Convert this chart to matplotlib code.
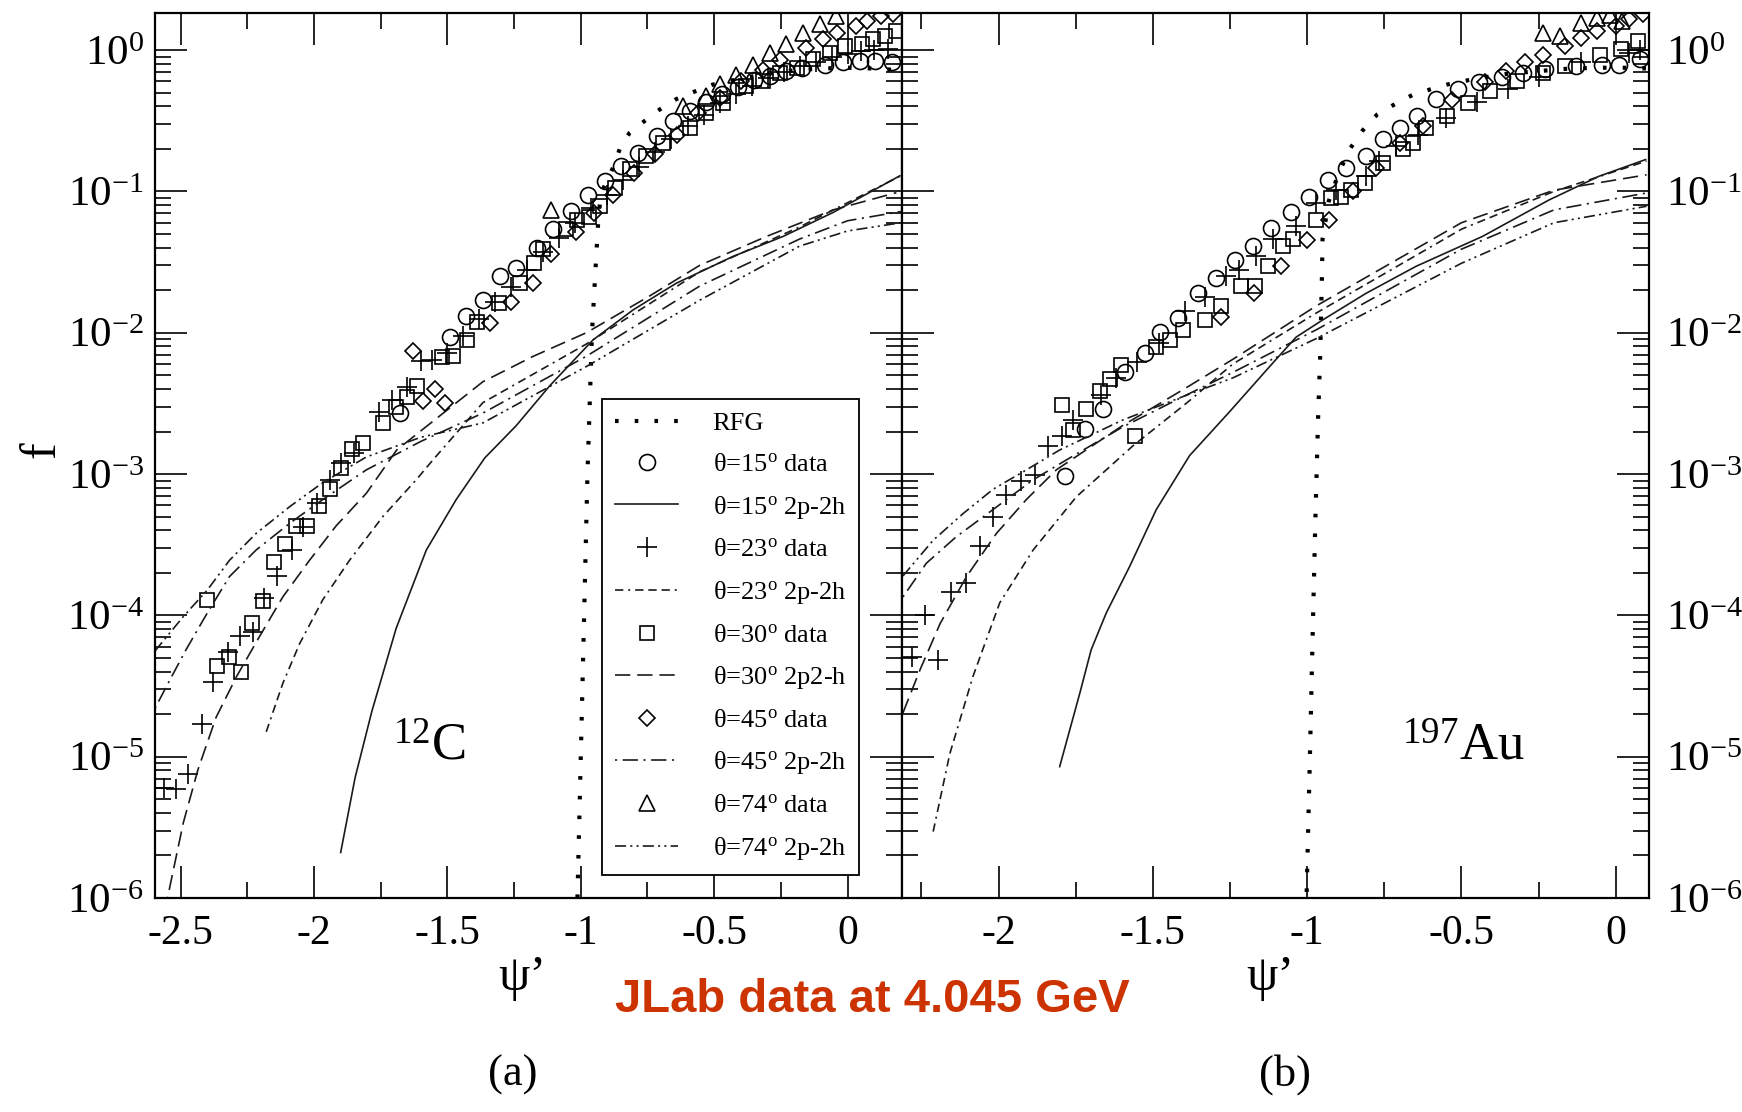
import numpy as np
import matplotlib
matplotlib.use("Agg")
import matplotlib.pyplot as plt
from matplotlib.ticker import FixedLocator, LogLocator, FuncFormatter, NullFormatter, FixedFormatter

plt.rcParams['font.family'] = ['Liberation Serif', 'DejaVu Serif']
plt.rcParams['mathtext.fontset'] = 'custom'
plt.rcParams['mathtext.rm'] = 'Liberation Serif'
plt.rcParams['mathtext.it'] = 'Liberation Serif:italic'
plt.rcParams['mathtext.bf'] = 'Liberation Serif:bold'
plt.rcParams['lines.scale_dashes'] = False

# ---------------- 12C (panel a) ----------------
c_rfg_psi = [-1.0125, -1.0, -0.9875, -0.975, -0.958, -0.942, -0.935, -0.925, -0.873, -0.854, -0.817, -0.76,
             -0.704, -0.642, -0.572, -0.505, -0.4, -0.3, -0.2, -0.1, 0.0, 0.1, 0.2]
c_rfg_f = [1e-6, 1e-5, 1e-4, 1e-3, 1e-2, 0.035, 0.06, 0.096, 0.156, 0.20, 0.26, 0.316,
           0.38, 0.45, 0.51, 0.57, 0.63, 0.68, 0.72, 0.74, 0.75, 0.74, 0.72]

c_d15_psi = [-1.679, -1.492, -1.429, -1.367, -1.304, -1.242, -1.166, -1.104, -1.035, -0.973, -0.91, -0.848,
             -0.785, -0.716, -0.654, -0.59, -0.53, -0.47, -0.41, -0.35, -0.29, -0.23, -0.17, -0.085,
             -0.016, 0.046, 0.1025, 0.165]
c_d15_f = [0.0027, 0.0093, 0.0131, 0.0171, 0.025, 0.0287, 0.040, 0.054, 0.073, 0.095, 0.119, 0.151,
           0.188, 0.247, 0.315, 0.37, 0.43, 0.49, 0.55, 0.61, 0.66, 0.71, 0.75, 0.79,
           0.82, 0.84, 0.84, 0.82]

c_d23_psi = [-2.5625, -2.517, -2.471, -2.421, -2.379, -2.321, -2.279, -2.229, -2.1875, -2.1375, -2.083, -2.042,
             -1.9875, -1.94, -1.90, -1.85, -1.758, -1.708, -1.65, -1.60, -1.558, -1.5, -1.44, -1.38,
             -1.32, -1.26, -1.2, -1.14, -1.08, -1.02, -0.96, -0.9, -0.84, -0.78, -0.72, -0.66,
             -0.6, -0.54, -0.48, -0.42, -0.36, -0.3, -0.24, -0.18, -0.12, -0.06, 0.0, 0.05, 0.1, 0.15]
c_d23_f = [6.0e-6, 5.9e-6, 7.6e-6, 1.7e-5, 3.4e-5, 5.5e-5, 7.1e-5, 7.6e-5, 1.33e-4, 1.9e-4, 2.9e-4, 4.2e-4,
           6.2e-4, 9.1e-4, 1.2e-3, 1.4e-3, 2.75e-3, 3.35e-3, 4.1e-3, 6.3e-3, 6.4e-3, 7.2e-3, 9.5e-3, 0.0125,
           0.0165, 0.021, 0.028, 0.037, 0.047, 0.060, 0.076, 0.095, 0.12, 0.15, 0.19, 0.235,
           0.29, 0.35, 0.42, 0.49, 0.56, 0.63, 0.70, 0.77, 0.83, 0.89, 0.94, 0.98, 1.0, 1.01]

c_d30_psi = [-2.40, -2.3625, -2.317, -2.275, -2.233, -2.19, -2.15, -2.108, -2.067, -2.025, -1.983, -1.94,
             -1.90, -1.858, -1.817, -1.74, -1.694, -1.651, -1.615, -1.52, -1.479, -1.427, -1.39, -1.308,
             -1.227, -1.177, -1.142, -1.056, -1.0125, -0.97, -0.929, -0.87, -0.817, -0.754, -0.692, -0.592,
             -0.529, -0.467, -0.379, -0.317, -0.254, -0.19, -0.129, -0.067, -0.01, 0.0525, 0.096, 0.14, 0.183]
c_d30_f = [1.29e-4, 4.4e-5, 5.1e-5, 4.0e-5, 8.8e-5, 1.26e-4, 2.4e-4, 3.2e-4, 4.3e-4, 4.3e-4, 5.9e-4, 7.9e-4,
           1.1e-3, 1.5e-3, 1.65e-3, 2.3e-3, 3.0e-3, 3.5e-3, 4.2e-3, 6.7e-3, 6.8e-3, 8.9e-3, 0.012, 0.0162,
           0.0225, 0.031, 0.039, 0.054, 0.063, 0.066, 0.079, 0.105, 0.143, 0.178, 0.221, 0.283,
           0.361, 0.425, 0.56, 0.605, 0.69, 0.75, 0.86, 0.96, 1.07, 1.10, 1.19, 1.26, 1.37]

c_d45_psi = [-1.629, -1.59, -1.548, -1.51, -1.34, -1.2625, -1.18, -1.11, -1.017, -0.95, -0.88, -0.8,
             -0.72, -0.64, -0.56, -0.48, -0.40, -0.317, -0.254, -0.154, -0.092, -0.04, 0.033, 0.071, 0.125, 0.17]
c_d45_f = [7.4e-3, 3.3e-3, 4.0e-3, 3.2e-3, 0.0117, 0.0166, 0.0225, 0.036, 0.052, 0.07, 0.095, 0.135,
           0.185, 0.25, 0.36, 0.46, 0.60, 0.72, 0.85, 1.04, 1.19, 1.33, 1.48, 1.61, 1.75, 1.80]

c_d74_psi = [-1.11, -0.617, -0.529, -0.479, -0.417, -0.354, -0.29, -0.229, -0.167, -0.104, -0.042]
c_d74_f = [0.074, 0.40, 0.474, 0.573, 0.67, 0.79, 0.96, 1.10, 1.33, 1.52, 1.74]

c_t15_psi = [-1.90, -1.846, -1.783, -1.692, -1.579, -1.467, -1.36, -1.242, -1.117, -0.954, -0.804, -0.642,
             -0.429, -0.242, -0.054, 0.196]
c_t15_f = [2.1e-6, 7.1e-6, 2.1e-5, 8.1e-5, 2.9e-4, 6.6e-4, 1.3e-3, 2.2e-3, 4.2e-3, 8.9e-3, 1.45e-2, 2.24e-2,
           3.47e-2, 4.8e-2, 7.1e-2, 0.129]

c_t23_psi = [-2.179, -2.117, -2.054, -1.967, -1.867, -1.742, -1.617, -1.554, -1.367, -0.98, -0.554, -0.18, 0.196]
c_t23_f = [1.5e-5, 3.3e-5, 6.3e-5, 1.29e-4, 2.45e-4, 5.0e-4, 9.1e-4, 1.26e-3, 3.2e-3, 8.3e-3, 2.7e-2, 5.6e-2, 0.128]

c_t30_psi = [-2.56, -2.49, -2.435, -2.367, -2.29, -2.204, -2.117, -2.017, -1.917, -1.804, -1.69, -1.367,
             -1.179, -0.979, -0.742, -0.554, -0.304, -0.054, 0.183]
c_t30_f = [8e-7, 3.4e-6, 8.1e-6, 1.9e-5, 3.7e-5, 7.1e-5, 1.35e-4, 2.45e-4, 4.3e-4, 7.3e-4, 1.48e-3, 4.5e-3,
           6.8e-3, 1.0e-2, 1.82e-2, 3.0e-2, 4.8e-2, 7.4e-2, 9.8e-2]

c_t45_psi = [-2.596, -2.54, -2.48, -2.40, -2.317, -2.217, -2.09, -1.967, -1.804, -1.6, -1.367, -0.98,
             -0.554, -0.18, 0.0, 0.2]
c_t45_f = [2.2e-5, 3.5e-5, 5.7e-5, 1.04e-4, 1.88e-4, 2.9e-4, 4.5e-4, 6.6e-4, 1.07e-3, 1.7e-3, 2.7e-3, 6.8e-3,
           2.14e-2, 4.6e-2, 6.2e-2, 7.2e-2]

c_t74_psi = [-2.596, -2.49, -2.40, -2.317, -2.217, -2.09, -1.967, -1.804, -1.6, -1.367, -0.98, -0.554,
             -0.18, 0.0, 0.2]
c_t74_f = [5.6e-5, 9.8e-5, 1.51e-4, 2.45e-4, 3.8e-4, 5.9e-4, 8.7e-4, 1.32e-3, 1.82e-3, 2.3e-3, 5.75e-3, 1.7e-2,
           4.1e-2, 5.25e-2, 6.0e-2]

# ---------------- 197Au (panel b) ----------------
a_rfg_psi = [-1.003, -0.991, -0.982, -0.973, -0.964, -0.958, -0.955, -0.952, -0.95, -0.93, -0.90, -0.865,
             -0.82, -0.773, -0.703, -0.651, -0.547, -0.45, -0.35, -0.25, -0.15, -0.05, 0.05, 0.1]
a_rfg_f = [8e-7, 1e-5, 7.4e-5, 5e-4, 2.7e-3, 6.5e-3, 0.0126, 0.025, 0.046, 0.085, 0.13, 0.195,
           0.27, 0.35, 0.43, 0.49, 0.57, 0.63, 0.68, 0.71, 0.74, 0.75, 0.75, 0.74]

a_d15_psi = [-1.786, -1.72, -1.662, -1.591, -1.527, -1.478, -1.419, -1.354, -1.295, -1.235, -1.176, -1.117,
             -1.052, -0.995, -0.933, -0.874, -0.809, -0.755, -0.70, -0.644, -0.581, -0.512, -0.442, -0.37,
             -0.30, -0.23, -0.13, -0.043, 0.01, 0.079]
a_d15_f = [9.7e-4, 2.1e-3, 2.9e-3, 5.3e-3, 7.2e-3, 0.0102, 0.0127, 0.019, 0.0245, 0.0329, 0.0408, 0.055,
           0.072, 0.092, 0.121, 0.147, 0.177, 0.233, 0.28, 0.34, 0.45, 0.53, 0.59, 0.64,
           0.69, 0.73, 0.77, 0.79, 0.79, 0.86]

a_d23_psi = [-2.28, -2.239, -2.196, -2.153, -2.104, -2.06, -2.018, -1.975, -1.926, -1.883, -1.84, -1.796,
             -1.759, -1.667, -1.619, -1.55, -1.48, -1.397, -1.33, -1.263, -1.22, -1.165, -1.111, -1.036,
             -0.971, -0.906, -0.809, -0.766, -0.712, -0.64, -0.55, -0.45, -0.35, -0.25, -0.112, 0.044, 0.08]
a_d23_f = [5.1e-5, 1.0e-4, 4.8e-5, 1.47e-4, 1.7e-4, 3.1e-4, 5.0e-4, 7.1e-4, 8.9e-4, 9.9e-4, 1.57e-3, 1.85e-3,
           2.4e-3, 3.6e-3, 4.8e-3, 6.2e-3, 8.5e-3, 0.0142, 0.018, 0.025, 0.028, 0.035, 0.046, 0.057,
           0.083, 0.103, 0.128, 0.163, 0.209, 0.25, 0.33, 0.43, 0.53, 0.64, 0.83, 0.955, 1.0]

a_d30_psi = [-1.796, -1.759, -1.718, -1.672, -1.64, -1.602, -1.559, -1.489, -1.446, -1.403, -1.332, -1.279,
             -1.214, -1.17, -1.127, -1.079, -1.047, -0.971, -0.922, -0.89, -0.8575, -0.814, -0.755, -0.69,
             -0.658, -0.615, -0.547, -0.478, -0.406, -0.32, -0.234, -0.164, -0.05, 0.018, 0.072]
a_d30_f = [3.1e-3, 2.05e-3, 2.9e-3, 3.85e-3, 4.7e-3, 5.9e-3, 1.85e-3, 7.9e-3, 8.9e-3, 0.0105, 0.0123, 0.0154,
           0.0213, 0.0213, 0.0295, 0.041, 0.046, 0.063, 0.090, 0.092, 0.103, 0.115, 0.16, 0.198,
           0.22, 0.28, 0.34, 0.42, 0.51, 0.60, 0.69, 0.77, 0.93, 1.01, 1.16]

a_d45_psi = [-1.279, -1.172, -1.086, -1.0, -0.929, -0.85, -0.777, -0.70, -0.626, -0.53, -0.424, -0.356,
             -0.295, -0.234, -0.164, -0.112, -0.061, 0.0, 0.043, 0.088]
a_d45_f = [0.013, 0.019, 0.0295, 0.045, 0.063, 0.10, 0.147, 0.22, 0.29, 0.44, 0.59, 0.71,
           0.83, 0.93, 1.07, 1.22, 1.36, 1.48, 1.65, 1.79]

a_d74_psi = [-0.234, -0.181, -0.112, -0.059, -0.02, 0.02]
a_d74_f = [1.32, 1.25, 1.55, 1.70, 1.78, 1.60]

a_t15_psi = [-1.802, -1.737, -1.70, -1.651, -1.576, -1.489, -1.381, -1.252, -1.133, -1.036, -0.95, -0.809,
             -0.647, -0.432, -0.216, -0.054, 0.097]
a_t15_f = [8.5e-6, 2.8e-5, 5.7e-5, 1.04e-4, 2.2e-4, 5.6e-4, 1.35e-3, 2.75e-3, 5.4e-3, 9.3e-3, 1.23e-2, 1.9e-2,
           2.95e-2, 4.8e-2, 8.7e-2, 0.128, 0.168]

a_t23_psi = [-2.212, -2.158, -2.083, -1.996, -1.888, -1.748, -1.565, -1.392, -1.241, -0.97, -0.5, -0.2, 0.1]
a_t23_f = [2.95e-6, 1.05e-5, 3.7e-5, 1.23e-4, 2.9e-4, 6.9e-4, 1.58e-3, 3.16e-3, 6.0e-3, 1.38e-2, 5.4e-2, 0.1, 0.164]

a_t30_psi = [-2.31, -2.255, -2.19, -2.104, -2.007, -1.91, -1.813, -1.6, -1.4, -1.24, -0.97, -0.5, -0.2, 0.1]
a_t30_f = [2.04e-5, 4.1e-5, 8.7e-5, 1.88e-4, 3.8e-4, 6.6e-4, 1.07e-3, 2.19e-3, 3.98e-3, 6.5e-3, 1.55e-2, 6.0e-2,
           0.102, 0.131]

a_t45_psi = [-2.31, -2.234, -2.137, -1.888, -1.78, -1.6, -1.4, -1.24, -0.97, -0.5, -0.2, 0.1]
a_t45_f = [1.35e-4, 2.34e-4, 3.6e-4, 9.1e-4, 1.26e-3, 2.14e-3, 3.55e-3, 5.25e-3, 1.05e-2, 3.9e-2, 7.4e-2, 9.75e-2]

a_t74_psi = [-2.31, -2.212, -2.115, -2.018, -1.91, -1.802, -1.6, -1.4, -1.24, -0.97, -0.5, -0.2, 0.1]
a_t74_f = [1.9e-4, 3.4e-4, 5.25e-4, 7.8e-4, 1.07e-3, 1.48e-3, 2.4e-3, 3.55e-3, 4.8e-3, 9.1e-3, 3.1e-2, 6.0e-2, 7.85e-2]

legend_labels = ['RFG', r'θ=15$^{\rm o}$ data', r'θ=15$^{\rm o}$ 2p-2h', r'θ=23$^{\rm o}$ data',
                 r'θ=23$^{\rm o}$ 2p-2h', r'θ=30$^{\rm o}$ data', r'θ=30$^{\rm o}$ 2p2-h',
                 r'θ=45$^{\rm o}$ data', r'θ=45$^{\rm o}$ 2p-2h', r'θ=74$^{\rm o}$ data', r'θ=74$^{\rm o}$ 2p-2h']

c_xticks = [-2.5, -2, -1.5, -1, -0.5, 0]
c_xticklabels = ['-2.5', '-2', '-1.5', '-1', '-0.5', '0']
a_xticks = [-2, -1.5, -1, -0.5, 0]
a_xticklabels = ['-2', '-1.5', '-1', '-0.5', '0']

W, H = 1742, 1112
fig = plt.figure(figsize=(W / 100, H / 100), dpi=100)
axL = fig.add_axes([155 / W, 1 - 898 / H, 747 / W, 885 / H])
axR = fig.add_axes([902 / W, 1 - 898 / H, 747 / W, 885 / H])

mk = dict(ls='none', mfc='none', mec='black', mew=1.2)
ln = dict(color='#1a1a1a', lw=1.2)
rfg_style = dict(color='black', lw=3.0, ls=(0, (2.6, 11.6)), dash_capstyle='butt')
ls23 = (0, (6, 3.5, 1.5, 3.5, 6, 3.5, 6, 3.5))
ls30 = (0, (11, 5))
ls45 = (0, (1.5, 4, 11, 4))
ls74 = (0, (8, 3, 1.5, 3, 1.5, 3))


def draw(ax, d, lab):
    ax.plot(d[0], d[1], label=lab[0], **rfg_style)
    ax.plot(d[2], d[3], marker='o', ms=11.5, label=lab[1], **mk)
    ax.plot(d[4], d[5], ls='-', label=lab[2], **ln)
    ax.plot(d[6], d[7], marker='+', ms=15, label=lab[3], **mk)
    ax.plot(d[8], d[9], ls=ls23, label=lab[4], **ln)
    ax.plot(d[10], d[11], marker='s', ms=10.5, label=lab[5], **mk)
    ax.plot(d[12], d[13], ls=ls30, label=lab[6], **ln)
    ax.plot(d[14], d[15], marker='D', ms=8.5, label=lab[7], **mk)
    ax.plot(d[16], d[17], ls=ls45, label=lab[8], **ln)
    ax.plot(d[18], d[19], marker='^', ms=11.5, label=lab[9], **mk)
    ax.plot(d[20], d[21], ls=ls74, label=lab[10], **ln)


draw(axL, [c_rfg_psi, c_rfg_f, c_d15_psi, c_d15_f, c_t15_psi, c_t15_f, c_d23_psi, c_d23_f,
           c_t23_psi, c_t23_f, c_d30_psi, c_d30_f, c_t30_psi, c_t30_f, c_d45_psi, c_d45_f,
           c_t45_psi, c_t45_f, c_d74_psi, c_d74_f, c_t74_psi, c_t74_f], legend_labels)
draw(axR, [a_rfg_psi, a_rfg_f, a_d15_psi, a_d15_f, a_t15_psi, a_t15_f, a_d23_psi, a_d23_f,
           a_t23_psi, a_t23_f, a_d30_psi, a_d30_f, a_t30_psi, a_t30_f, a_d45_psi, a_d45_f,
           a_t45_psi, a_t45_f, a_d74_psi, a_d74_f, a_t74_psi, a_t74_f], legend_labels)


def ylab(v, pos):
    return r'$\mathregular{10^{%d}}$' % int(round(np.log10(v)))


for ax, xl, xt, xtl in [(axL, (-2.596, 0.204), c_xticks, c_xticklabels),
                        (axR, (-2.313, 0.108), a_xticks, a_xticklabels)]:
    ax.set_yscale('log')
    ax.set_ylim(1e-6, 1.83)
    ax.set_xlim(*xl)
    ax.xaxis.set_major_locator(FixedLocator(xt))
    ax.xaxis.set_major_formatter(FixedFormatter(xtl))
    ax.xaxis.set_minor_locator(FixedLocator([t - 0.25 for t in xt] + [xt[-1] + 0.25]))
    ax.yaxis.set_major_locator(FixedLocator([1e-6, 1e-5, 1e-4, 1e-3, 1e-2, 1e-1, 1]))
    ax.yaxis.set_major_formatter(FuncFormatter(ylab))
    ax.yaxis.set_minor_locator(LogLocator(base=10, subs=np.arange(2, 10), numticks=20))
    ax.yaxis.set_minor_formatter(NullFormatter())
    ax.tick_params(which='major', direction='in', length=23, width=1.2, top=True, right=True,
                   labelsize=30)
    ax.tick_params(which='minor', direction='in', length=11.5, width=1.2, top=True, right=True)
    ax.tick_params(axis='x', which='major', pad=12)
    for s in ax.spines.values():
        s.set_linewidth(1.6)

axL.tick_params(axis='y', which='both', labelleft=True, labelright=False, pad=8, labelsize=31)
axR.tick_params(axis='y', which='both', labelleft=False, labelright=True, pad=12, labelsize=31)

leg = axL.legend(loc='lower left', bbox_to_anchor=(0.598, 0.026), fontsize=19, frameon=True,
                 fancybox=False, edgecolor='black', framealpha=1, handlelength=2.4,
                 handletextpad=1.3, labelspacing=0.66, borderpad=0.5, borderaxespad=0)
leg.get_frame().set_linewidth(1.3)

axL.text(0.367, 0.171, r'$\mathregular{^{12}C}$', transform=axL.transAxes, fontsize=38,
         ha='center', va='center')
axR.text(0.751, 0.171, r'$\mathregular{^{197}Au}$', transform=axR.transAxes, fontsize=38,
         ha='center', va='center')

fig.text(42 / W, 1 - 450 / H, 'f', fontsize=36, rotation=90, ha='center', va='center')
fig.text(522 / W, 1 - 978 / H, 'ψ’', fontsize=36, ha='center', va='center')
fig.text(1270 / W, 1 - 978 / H, 'ψ’', fontsize=36, ha='center', va='center')
fig.text(513 / W, 1 - 1075 / H, '(a)', fontsize=32, ha='center', va='center')
fig.text(1285 / W, 1 - 1075 / H, '(b)', fontsize=32, ha='center', va='center')
fig.text(872 / W, 1 - 1000 / H, 'JLab data at 4.045 GeV', fontsize=34, fontweight='bold',
         family='Liberation Sans', color='#cc3300', ha='center', va='center')

fig.savefig('out.png', dpi=100)
